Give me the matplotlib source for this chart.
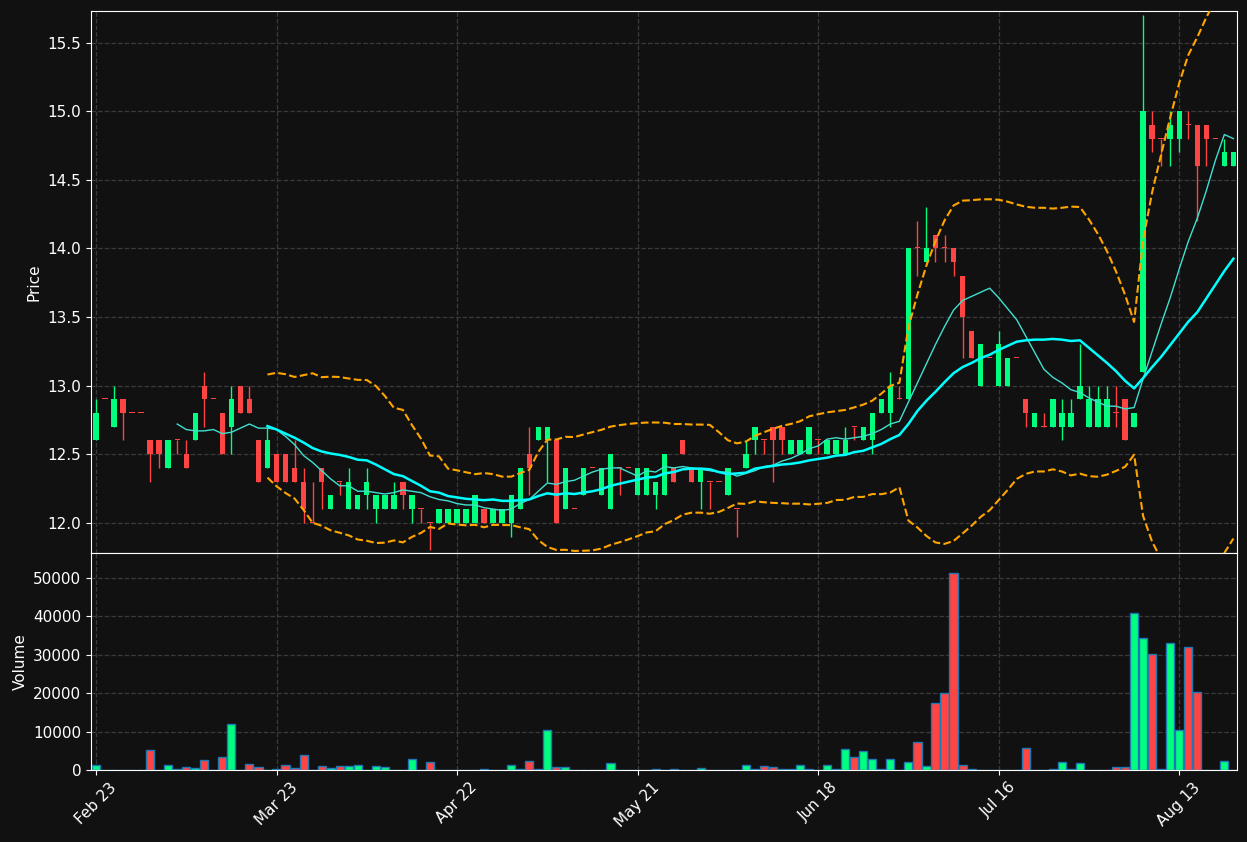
import matplotlib
matplotlib.use("Agg")
import matplotlib.pyplot as plt
import numpy as np
import pandas as pd

# daily OHLC, one row per bar
ohlc = [
    (12.6, 12.9, 12.6, 12.8), (12.9, 12.9, 12.9, 12.9), (12.7, 13.0, 12.7, 12.9), (12.9, 12.9, 12.6, 12.8),
    (12.8, 12.8, 12.8, 12.8), (12.8, 12.8, 12.8, 12.8), (12.6, 12.6, 12.3, 12.5), (12.6, 12.6, 12.4, 12.5),
    (12.4, 12.6, 12.4, 12.6), (12.6, 12.6, 12.5, 12.6), (12.5, 12.6, 12.4, 12.4), (12.6, 12.8, 12.6, 12.8),
    (13.0, 13.1, 12.7, 12.9), (12.9, 12.9, 12.9, 12.9), (12.8, 12.8, 12.5, 12.5), (12.7, 13.0, 12.5, 12.9),
    (13.0, 13.0, 12.8, 12.8), (12.9, 13.0, 12.8, 12.8), (12.6, 12.6, 12.3, 12.3), (12.4, 12.7, 12.4, 12.6),
    (12.5, 12.5, 12.3, 12.3), (12.5, 12.5, 12.3, 12.3), (12.4, 12.6, 12.3, 12.3), (12.3, 12.4, 12.0, 12.1),
    (12.0, 12.3, 12.0, 12.0), (12.4, 12.4, 12.1, 12.3), (12.1, 12.2, 12.1, 12.2), (12.3, 12.3, 12.2, 12.3),
    (12.1, 12.4, 12.1, 12.3), (12.1, 12.2, 12.1, 12.2), (12.2, 12.4, 12.1, 12.3), (12.1, 12.2, 12.0, 12.2),
    (12.1, 12.2, 12.1, 12.2), (12.1, 12.3, 12.1, 12.2), (12.3, 12.3, 12.1, 12.2), (12.1, 12.2, 12.0, 12.2),
    (12.1, 12.1, 12.0, 12.1), (12.0, 12.0, 11.8, 12.0), (12.0, 12.1, 12.0, 12.1), (12.0, 12.1, 12.0, 12.1),
    (12.0, 12.1, 12.0, 12.1), (12.0, 12.1, 12.0, 12.1), (12.0, 12.2, 12.0, 12.2), (12.1, 12.1, 12.0, 12.0),
    (12.0, 12.1, 12.0, 12.1), (12.0, 12.1, 12.0, 12.1), (12.0, 12.2, 11.9, 12.2), (12.1, 12.4, 12.1, 12.4),
    (12.5, 12.7, 12.2, 12.4), (12.6, 12.7, 12.6, 12.7), (12.6, 12.7, 12.3, 12.7), (12.6, 12.6, 12.0, 12.0),
    (12.1, 12.4, 12.1, 12.4), (12.1, 12.1, 12.1, 12.1), (12.2, 12.4, 12.2, 12.4), (12.4, 12.4, 12.4, 12.4),
    (12.2, 12.4, 12.2, 12.4), (12.1, 12.5, 12.1, 12.5), (12.4, 12.4, 12.2, 12.4), (12.4, 12.4, 12.4, 12.4),
    (12.2, 12.4, 12.2, 12.4), (12.2, 12.4, 12.2, 12.4), (12.2, 12.3, 12.1, 12.3), (12.2, 12.5, 12.2, 12.5),
    (12.4, 12.4, 12.3, 12.3), (12.6, 12.6, 12.5, 12.5), (12.4, 12.4, 12.3, 12.3), (12.3, 12.4, 12.1, 12.4),
    (12.3, 12.3, 12.1, 12.3), (12.3, 12.3, 12.3, 12.3), (12.2, 12.4, 12.2, 12.4), (12.1, 12.1, 11.9, 12.1),
    (12.4, 12.6, 12.4, 12.5), (12.6, 12.7, 12.5, 12.7), (12.6, 12.6, 12.5, 12.6), (12.7, 12.7, 12.3, 12.6),
    (12.7, 12.7, 12.5, 12.6), (12.5, 12.6, 12.5, 12.6), (12.5, 12.6, 12.5, 12.6), (12.5, 12.7, 12.5, 12.7),
    (12.6, 12.6, 12.5, 12.6), (12.5, 12.6, 12.5, 12.6), (12.5, 12.6, 12.5, 12.6), (12.5, 12.7, 12.5, 12.6),
    (12.7, 12.7, 12.6, 12.7), (12.6, 12.7, 12.6, 12.7), (12.6, 12.8, 12.5, 12.8), (12.8, 12.9, 12.8, 12.9),
    (12.8, 13.1, 12.7, 13.0), (12.9, 13.0, 12.9, 12.9), (12.9, 14.0, 12.9, 14.0), (14.0, 14.2, 13.8, 14.0),
    (13.9, 14.3, 13.9, 14.0), (14.1, 14.1, 13.9, 14.0), (14.0, 14.1, 13.9, 14.0), (14.0, 14.0, 13.8, 13.9),
    (13.8, 13.8, 13.2, 13.5), (13.4, 13.4, 13.2, 13.2), (13.0, 13.3, 13.0, 13.3), (13.2, 13.2, 13.2, 13.2),
    (13.0, 13.4, 13.0, 13.3), (13.0, 13.2, 13.0, 13.2), (13.2, 13.2, 13.2, 13.2), (12.9, 12.9, 12.7, 12.8),
    (12.7, 12.8, 12.7, 12.8), (12.7, 12.8, 12.7, 12.7), (12.7, 12.9, 12.7, 12.9), (12.7, 12.9, 12.6, 12.8),
    (12.7, 12.9, 12.7, 12.8), (12.9, 13.3, 12.9, 13.0), (12.7, 13.0, 12.7, 12.9), (12.7, 13.0, 12.7, 12.9),
    (12.7, 13.0, 12.7, 12.9), (12.8, 13.0, 12.7, 12.8), (12.9, 12.9, 12.6, 12.6), (12.7, 12.8, 12.7, 12.8),
    (13.1, 15.7, 13.1, 15.0), (14.9, 15.0, 14.7, 14.8), (14.8, 14.8, 14.6, 14.8), (14.8, 15.0, 14.6, 14.9),
    (14.8, 15.0, 14.7, 15.0), (14.9, 15.0, 14.8, 14.9), (14.9, 14.9, 14.2, 14.6), (14.9, 14.9, 14.6, 14.8),
    (14.8, 14.8, 14.8, 14.8), (14.6, 14.8, 14.6, 14.7), (14.6, 14.7, 14.6, 14.7),
]

volume = [0] * len(ohlc)
vol_read = {
    0: 1200, 6: 5200, 8: 1200, 9: 200, 10: 700, 11: 400, 12: 2600, 14: 3400, 15: 12100, 17: 1500,
    18: 700, 19: 100, 20: 300, 21: 1200, 22: 400, 23: 3900, 25: 1000, 26: 400, 27: 1000, 28: 1000,
    29: 1200, 30: 100, 31: 1000, 32: 700, 33: 100, 34: 100, 35: 2800, 37: 2000, 43: 300, 46: 1200,
    47: 300, 48: 2300, 49: 300, 50: 10300, 51: 900, 52: 900, 57: 1800, 58: 100, 62: 150, 64: 150,
    67: 400, 72: 1200, 73: 200, 74: 1000, 75: 700, 76: 300, 77: 300, 78: 1200, 79: 300, 81: 1200,
    82: 300, 83: 5500, 84: 3400, 85: 5000, 86: 2800, 87: 300, 88: 2800, 90: 2000, 91: 7200, 92: 1000,
    93: 17400, 94: 20000, 95: 51200, 96: 1200, 97: 300, 101: 100, 103: 5600, 105: 100, 106: 300,
    107: 2000, 108: 300, 109: 1700, 113: 700, 114: 700, 115: 41000, 116: 34300, 117: 30100, 118: 200,
    119: 33000, 120: 10300, 121: 31900, 122: 20200, 125: 2300,
}
for k, v in vol_read.items():
    volume[k] = v

tick_pos = [0, 20, 40, 60, 80, 100, 120]
tick_labels = ["Feb 23", "Mar 23", "Apr 22", "May 21", "Jun 18", "Jul 16", "Aug 13"]

df = pd.DataFrame(ohlc, columns=["open", "high", "low", "close"])
df["volume"] = volume
x = np.arange(len(df))
ma10 = df["close"].rolling(10).mean()
ma20 = df["close"].rolling(20).mean()
sd20 = df["close"].rolling(20).std()

bg = "#111111"
up, down = "#00ff7f", "#ff4444"
colors = np.where(df["close"] > df["open"], up, down)

fig = plt.figure(figsize=(12.47, 8.42), dpi=100, facecolor=bg)
ax1 = fig.add_axes([91 / 1247, 1 - 553 / 842, 1146 / 1247, 542 / 842])
ax2 = fig.add_axes([91 / 1247, 1 - 770 / 842, 1146 / 1247, 217 / 842], sharex=ax1)

for ax in (ax1, ax2):
    ax.set_facecolor(bg)
    for s in ax.spines.values():
        s.set_color("white")
    ax.tick_params(colors="white", labelsize=11)
    ax.grid(True, color="#3a3a3a", linestyle="--", linewidth=0.9)
    ax.set_axisbelow(True)

ax1.vlines(x, df["low"], df["high"], colors=colors, linewidth=1, zorder=2)
body = (df["close"] - df["open"]).abs().clip(lower=0.008)
ax1.bar(x, body, bottom=df[["open", "close"]].min(axis=1), width=0.6, color=colors, zorder=3)
ax1.plot(x, ma10, color="#40e0d0", linewidth=1, zorder=4)
ax1.plot(x, ma20, color="#00ffff", linewidth=1.8, zorder=4)
ax1.plot(x, ma20 + 2 * sd20, color="orange", linestyle="--", linewidth=1.5, zorder=4)
ax1.plot(x, ma20 - 2 * sd20, color="orange", linestyle="--", linewidth=1.5, zorder=4)
ax1.set_ylim(11.78, 15.73)
ax1.set_ylabel("Price", color="white", fontsize=11)
ax1.tick_params(axis="x", labelbottom=False)

ax2.bar(x, df["volume"], width=0.9, color=colors, edgecolor="#1f77b4", linewidth=1)
ax2.set_ylim(0, 56500)
ax2.set_yticks([0, 10000, 20000, 30000, 40000, 50000])
ax2.set_ylabel("Volume", color="white", fontsize=11)
ax2.set_xlim(-0.55, 126.4)
ax2.set_xticks(tick_pos)
ax2.set_xticklabels(tick_labels, rotation=45)

fig.savefig("out.png", dpi=100, facecolor=bg)
